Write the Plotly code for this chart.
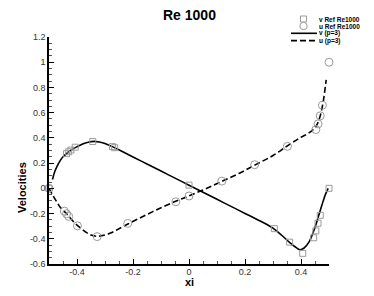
import plotly.graph_objects as go

# ---------------- data ----------------
# Reference data (Ghia et al., Re=1000), xi = coordinate - 0.5
ref_v_xi = [-0.5, -0.4375, -0.4297, -0.4219, -0.4062, -0.3437, -0.2734, -0.2656,
            0.0, 0.3047, 0.3594, 0.4063, 0.4453, 0.4531, 0.4609, 0.4688, 0.5]
ref_v = [0.0, 0.27485, 0.29012, 0.30353, 0.32627, 0.37095, 0.33075, 0.32235,
         0.02526, -0.31966, -0.42665, -0.51550, -0.39188, -0.33714, -0.27669, -0.21388, 0.0]

ref_u_xi = [-0.5, -0.4453, -0.4375, -0.4297, -0.3984, -0.3281, -0.2187, -0.0469,
            0.0, 0.1172, 0.2344, 0.3516, 0.4531, 0.4609, 0.4688, 0.4766, 0.5]
ref_u = [0.0, -0.18109, -0.20196, -0.22220, -0.29730, -0.38289, -0.27805, -0.10648,
         -0.06080, 0.05702, 0.18719, 0.33304, 0.46604, 0.51117, 0.57492, 0.65928, 1.0]

# Computed solution (p=3)
sol_v_xi = [-0.4875, -0.48, -0.47, -0.46, -0.45, -0.4375, -0.42, -0.40, -0.38, -0.36,
            -0.34, -0.32, -0.30, -0.27, -0.24, -0.20, -0.15, -0.10, -0.05, 0.0,
            0.05, 0.10, 0.15, 0.20, 0.25, 0.28, 0.30, 0.33, 0.36, 0.38, 0.396,
            0.41, 0.43, 0.45, 0.464, 0.475, 0.487, 0.497]
sol_v = [0.07, 0.13, 0.18, 0.22, 0.25, 0.275, 0.305, 0.33, 0.352, 0.366,
         0.372, 0.367, 0.356, 0.327, 0.294, 0.249, 0.193, 0.137, 0.081, 0.025,
         -0.031, -0.087, -0.143, -0.199, -0.255, -0.289, -0.315, -0.37, -0.43, -0.465, -0.487,
         -0.475, -0.42, -0.31, -0.21, -0.13, -0.05, 0.0]

sol_u_xi = [-0.5, -0.49, -0.48, -0.47, -0.46, -0.45, -0.44, -0.43, -0.41, -0.39,
            -0.37, -0.35, -0.33, -0.31, -0.28, -0.25, -0.22, -0.18, -0.12, -0.05,
            0.0, 0.06, 0.12, 0.18, 0.24, 0.30, 0.35, 0.396, 0.425, 0.446, 0.458,
            0.468, 0.478, 0.49]
sol_u = [0.0, -0.04, -0.08, -0.115, -0.15, -0.175, -0.195, -0.22, -0.27, -0.31,
         -0.345, -0.37, -0.38, -0.375, -0.355, -0.32, -0.285, -0.24, -0.175, -0.105,
         -0.06, -0.003, 0.058, 0.12, 0.19, 0.26, 0.335, 0.40, 0.435, 0.47, 0.51,
         0.57, 0.67, 0.86]

x_tickvals = [-0.4, -0.2, 0.0, 0.2, 0.4]
x_ticktext = ["-0.4", "-0.2", "0", "0.2", "0.4"]
y_tickvals = [1.2, 1.0, 0.8, 0.6, 0.4, 0.2, 0.0, -0.2, -0.4, -0.6]
y_ticktext = ["1.2", "1", "0.8", "0.6", "0.4", "0.2", "0", "-0.2", "-0.4", "-0.6"]

legend_labels = ["v Ref Re1000", "u Ref Re1000", "v (p=3)", "u (p=3)"]
title_text = "Re 1000"

# ---------------- figure ----------------
OFF = 8  # page body margin
W, H = 374 - 2 * OFF, 296 - 2 * OFF
L, T = 49 - OFF, 37 - OFF
R = W - (329 - OFF)
B = H - (264 - OFF)
pw, ph = W - L - R, H - T - B

def px(xp):  # page pixel -> paper
    return (xp - OFF - L) / pw

def py(yp):
    return (H - B - (yp - OFF)) / ph

marker_col = "#9a9a9a"
fig = go.Figure()
fig.add_trace(go.Scatter(x=sol_v_xi, y=sol_v, mode="lines", line=dict(color="black", width=1.6, shape="spline"),
                         showlegend=False, cliponaxis=False))
fig.add_trace(go.Scatter(x=sol_u_xi, y=sol_u, mode="lines",
                         line=dict(color="black", width=1.6, dash="6px,3px", shape="spline"),
                         showlegend=False, cliponaxis=False))
fig.add_trace(go.Scatter(x=ref_v_xi, y=ref_v, mode="markers",
                         marker=dict(symbol="square-open", size=6, color=marker_col, line=dict(width=1)),
                         showlegend=False, cliponaxis=False))
fig.add_trace(go.Scatter(x=ref_u_xi, y=ref_u, mode="markers",
                         marker=dict(symbol="circle-open", size=8, color=marker_col, line=dict(width=1)),
                         showlegend=False, cliponaxis=False))

axis_common = dict(showline=True, linecolor="black", linewidth=1.6, mirror=False,
                   ticks="inside", ticklen=5, tickwidth=1.3, tickcolor="black",
                   showgrid=False, zeroline=False,
                   tickfont=dict(family="Liberation Sans, Arial", size=9, color="#333333"))

fig.update_xaxes(range=[-0.5, 0.5], tickvals=x_tickvals, ticktext=x_ticktext, ticklabelstandoff=-2,
                 minor=dict(dtick=0.05, ticks="inside", ticklen=3, tickcolor="#555555", tickwidth=1),
                 **axis_common)
fig.update_yaxes(range=[-0.6, 1.2], tickvals=y_tickvals, ticktext=y_ticktext,
                 minor=dict(dtick=0.05, ticks="inside", ticklen=3, tickcolor="#555555", tickwidth=1),
                 **axis_common)

annotations = [
    dict(text="<b>" + title_text + "</b>", x=0.5, y=py(15), xref="paper", yref="paper",
         showarrow=False, font=dict(family="Liberation Sans, Arial", size=14, color="black"),
         xanchor="center", yanchor="middle", borderpad=0),
    dict(text="<b>xi</b>", x=0.5, y=py(282), xref="paper", yref="paper",
         showarrow=False, font=dict(family="Liberation Sans, Arial", size=11, color="black"),
         xanchor="center", yanchor="middle", borderpad=0),
    dict(text="<b>Velocities</b>", x=px(22), y=py(188), xref="paper", yref="paper",
         showarrow=False, textangle=-90, font=dict(family="Liberation Sans, Arial", size=11, color="black"),
         xanchor="center", yanchor="middle", borderpad=0),
]
leg_y = [19.5, 26, 33.3, 40.6]
for lab, yy in zip(legend_labels, leg_y):
    annotations.append(dict(text="<b>" + lab + "</b>", x=px(318), y=py(yy), xref="paper", yref="paper",
                            showarrow=False, font=dict(family="Liberation Sans, Arial", size=6.5, color="black"),
                            xanchor="left", yanchor="middle", borderpad=0))

shapes = [
    dict(type="rect", xref="paper", yref="paper", x0=px(300.5), x1=px(306.5), y0=py(22), y1=py(16),
         line=dict(color=marker_col, width=1)),
    dict(type="circle", xref="paper", yref="paper", x0=px(299.8), x1=px(307.2), y0=py(29.7), y1=py(22.3),
         line=dict(color=marker_col, width=1), fillcolor="white"),
    dict(type="line", xref="paper", yref="paper", x0=px(291), x1=px(317), y0=py(leg_y[2]), y1=py(leg_y[2]),
         line=dict(color="black", width=1.6)),
    dict(type="line", xref="paper", yref="paper", x0=px(291), x1=px(317), y0=py(leg_y[3]), y1=py(leg_y[3]),
         line=dict(color="black", width=1.6, dash="6px,3px")),
]

fig.update_layout(width=W, height=H, margin=dict(l=L, r=R, t=T, b=B),
                  paper_bgcolor="white", plot_bgcolor="white",
                  annotations=annotations, shapes=shapes, showlegend=False)

fig.write_html("out.html")
